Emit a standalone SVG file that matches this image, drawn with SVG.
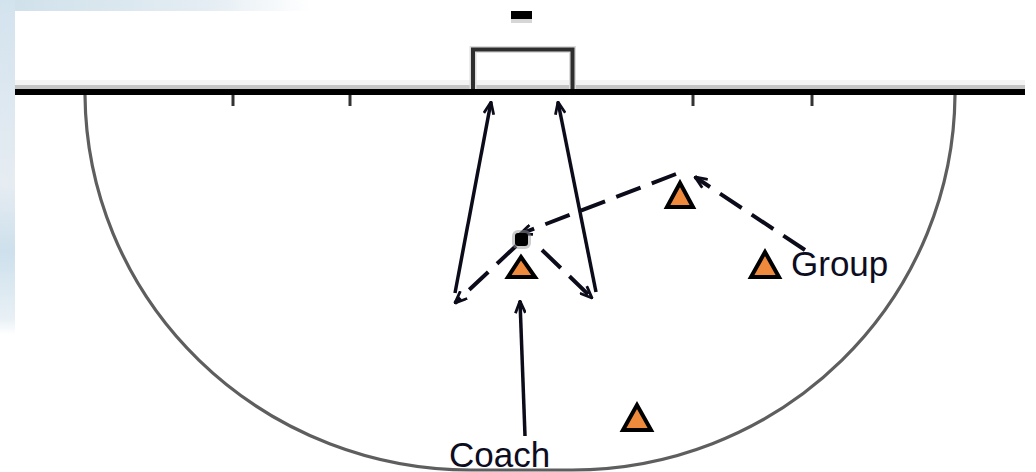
<svg xmlns="http://www.w3.org/2000/svg" width="1036" height="472" viewBox="0 0 1036 472">
  <defs>
    <linearGradient id="topbg" x1="0" y1="0" x2="1" y2="0">
      <stop offset="0" stop-color="#cfe0ea"/>
      <stop offset="0.2" stop-color="#e4edf3"/>
      <stop offset="0.3" stop-color="#ffffff"/>
    </linearGradient>
    <linearGradient id="leftbg" x1="0" y1="0" x2="0" y2="1">
      <stop offset="0" stop-color="#d3e3ee"/>
      <stop offset="0.55" stop-color="#e6ecf2"/>
      <stop offset="0.75" stop-color="#cde0ec"/>
      <stop offset="0.95" stop-color="#e8f0f5"/>
      <stop offset="1" stop-color="#ffffff"/>
    </linearGradient>
    <marker id="ah" viewBox="0 0 14 12" refX="13" refY="6" markerWidth="14" markerHeight="12" markerUnits="userSpaceOnUse" orient="auto">
      <path d="M1,1 L13,6 L1,11" fill="none" stroke="#0b0b1a" stroke-width="2.8"/>
    </marker>
    <style>
      .field { fill: none; stroke: #5e5e5e; stroke-width: 3.2; }
      .tick { stroke: #333; stroke-width: 3; }
      .solid { stroke: #0b0b1a; stroke-width: 3.5; fill: none; marker-end: url(#ah); }
      .dash { stroke: #0b0b1a; stroke-width: 4; fill: none; stroke-dasharray: 26 12; marker-end: url(#ah); }
      .cone { fill: #ef8a3c; stroke: #000; stroke-width: 4; stroke-linejoin: miter; }
      .label { font-family: "Liberation Sans", Arial, sans-serif; font-size: 35px; fill: #0d0d1f; }
    </style>
  </defs>

  <!-- background -->
  <rect x="0" y="0" width="1036" height="472" fill="#ffffff"/>
  <rect x="0" y="0" width="1036" height="11" fill="url(#topbg)"/>
  <rect x="0" y="0" width="15" height="335" fill="url(#leftbg)"/>

  <!-- field -->
  <g id="field">
    <rect x="15" y="80" width="1010" height="5" fill="#f3f3f3"/>
    <rect x="15" y="85" width="1010" height="4" fill="#c4c4c4"/>
    <path d="M473,89 V49.5 H572.5 V89" fill="none" stroke="#dcdcdc" stroke-width="7"/>
    <path d="M473,89 V49.5 H572.5 V89" fill="none" stroke="#2e2e2e" stroke-width="4"/>
    <rect x="511" y="11" width="21" height="8" fill="#000"/>
    <rect x="511" y="19" width="21" height="4" fill="#d6d6d6"/>
    <rect x="15" y="89" width="1010" height="6" fill="#000"/>
    <line class="tick" x1="233" y1="95" x2="233" y2="106"/>
    <line class="tick" x1="350" y1="95" x2="350" y2="106"/>
    <line class="tick" x1="693" y1="95" x2="693" y2="106"/>
    <line class="tick" x1="812" y1="95" x2="812" y2="106"/>
    <path class="field" d="M85,95 A386,378 0 0 0 471,470 L572,470 A383,378 0 0 0 955,95"/>
  </g>

  <!-- connectors -->
  <g id="connectors">
    <line class="solid" x1="455" y1="293" x2="491" y2="102"/>
    <line class="solid" x1="596" y1="292" x2="558" y2="102"/>
    <line class="solid" x1="525" y1="436" x2="520" y2="301"/>
    <line class="dash" x1="516" y1="246" x2="455" y2="303"/>
    <line class="dash" x1="542" y1="250" x2="592" y2="298"/>
    <line class="dash" x1="676" y1="174" x2="520" y2="234"/>
    <line class="dash" x1="805" y1="250" x2="695" y2="177"/>
  </g>

  <!-- nodes -->
  <g id="ball">
    <rect x="512" y="230" width="19" height="19" rx="6" fill="#9a9a9a" opacity="0.5"/>
    <rect x="515" y="233" width="13" height="13" rx="3" fill="#000"/>
  </g>
  <g id="coach-cone">
    <polygon class="cone" points="521,257 508,277 535,277"/>
  </g>
  <g id="cone-top">
    <polygon class="cone" points="680,183 667,207 693,207"/>
  </g>
  <g id="group-cone">
    <polygon class="cone" points="765,252 751,277 779,277"/>
    <text class="label" x="791" y="276">Group</text>
  </g>
  <g id="cone-bottom">
    <polygon class="cone" points="637,405 623,430 651,430"/>
  </g>
  <g id="coach-label">
    <text class="label" x="449" y="467">Coach</text>
  </g>
</svg>
